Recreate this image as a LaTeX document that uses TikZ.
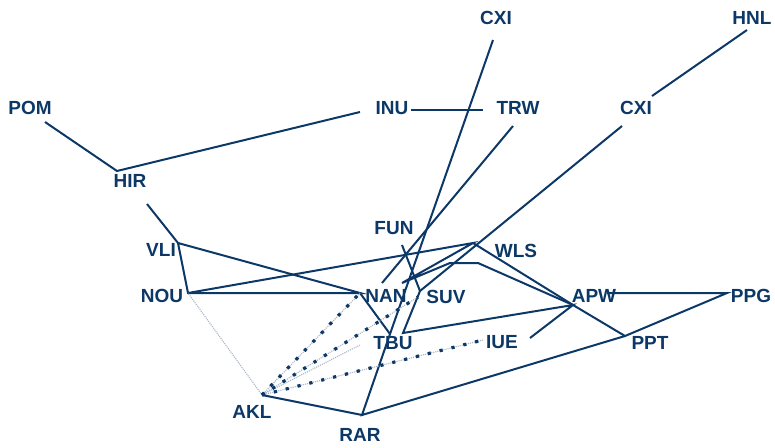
\documentclass[tikz,border=0pt]{standalone}
\usepackage{fontspec}
\setmainfont{Liberation Sans}
\usetikzlibrary{positioning,calc}
\definecolor{navy}{RGB}{12,56,104}
\definecolor{haze}{RGB}{170,182,198}

\begin{document}
\begin{tikzpicture}[x=1pt, y=-1pt,
    route/.style={navy, line width=2pt},
    faint/.style={haze, line width=1.1pt, densely dotted},
    codeshare/.style={faint, postaction={draw, navy, line width=3.2pt, dash pattern=on 3.2pt off 9pt}},
    port/.style={text=navy, inner sep=0pt, font=\fontsize{19}{19}\selectfont\bfseries}]
  \useasboundingbox (0,0) rectangle (775,447);

  % Airport labels
  \foreach \n/\x/\y/\t in {cxiA/496/18/CXI, hnl/752/18/HNL, pom/30/108/POM, inu/392/108/INU,
      trw/518/108/TRW, cxiB/636/108/CXI, hir/130/181/HIR, fun/394/228/FUN, vli/161/250/VLI,
      wls/516/251/WLS, nou/162/296/NOU, nan/386/296/NAN, suv/446/297/SUV, apw/594/296/APW,
      ppg/751/296/PPG, tbu/393/343/TBU, iue/502/342/IUE, ppt/650/343/PPT, akl/252/412/AKL,
      rar/360/435/RAR} {
    \node[port] (l-\n) at (\x,\y) {\t};
  }

  % Route points
  \coordinate (pCXIa) at (493,40);
  \coordinate (pHNL) at (747,30);
  \coordinate (pCXIb) at (622,126);
  \coordinate (pCXIc) at (652,96);
  \coordinate (pPOM) at (45,122);
  \coordinate (pHIR) at (117,171);
  \coordinate (pHIRb) at (147,204);
  \coordinate (pINU) at (360,112);
  \coordinate (pINUr) at (411,110);
  \coordinate (pTRWl) at (483,110);
  \coordinate (pTRW) at (513,126);
  \coordinate (pVLI) at (178,243);
  \coordinate (pNOU) at (188,293);
  \coordinate (pNAN) at (360,293);
  \coordinate (pNANa) at (382,283);
  \coordinate (pNANb) at (402,283);
  \coordinate (pFUN) at (402,245);
  \coordinate (pSUV) at (420,291);
  \coordinate (pSUVd) at (418,297);
  \coordinate (pWLS) at (473,243);
  \coordinate (pBendA) at (450,263);
  \coordinate (pBendB) at (478,263);
  \coordinate (pTBU) at (390,334);
  \coordinate (pTBUr) at (403,333);
  \coordinate (pTBUd) at (360,345);
  \coordinate (pAPW) at (573,305);
  \coordinate (pAPWr) at (607,293);
  \coordinate (pPPG) at (727,293);
  \coordinate (pPPT) at (625,336);
  \coordinate (pIUE) at (530,338);
  \coordinate (pIUEd) at (483,340);
  \coordinate (pAKL) at (262,395);
  \coordinate (pRAR) at (362,415);

  % Routes
  \draw[route] (pPOM) -- (pHIR) -- (pINU);
  \draw[route] (pINUr) -- (pTRWl);
  \draw[route] (pHNL) -- (pCXIc);
  \draw[route] (pHIRb) -- (pVLI) -- (pNOU) -- (pNAN) -- (pVLI);
  \draw[route] (pNOU) -- (pWLS) -- (pNANb) -- (pBendA) -- (pBendB) -- (pAPW);
  \draw[route] (pWLS) -- (pAPW) -- (pPPT) -- (pPPG) -- (pAPWr);
  \draw[route] (pCXIa) -- (pTBU) -- (pRAR) -- (pPPT);
  \draw[route] (pNAN) -- (pTBU);
  \draw[route] (pTRW) -- (pNANa);
  \draw[route] (pCXIb) -- (pSUV);
  \draw[route] (pFUN) -- (pSUV) -- (pTBUr) -- (pAPW) -- (pIUE);
  \draw[route] (pAKL) -- (pRAR);

  % Codeshare links from AKL
  \draw[faint] (pAKL) -- (pNOU);
  \draw[faint] (pAKL) -- (pTBUd);
  \draw[codeshare] (pAKL) -- (pNAN);
  \draw[codeshare] (pAKL) -- (pSUVd);
  \draw[codeshare] (pAKL) -- (pIUEd);
\end{tikzpicture}
\end{document}
